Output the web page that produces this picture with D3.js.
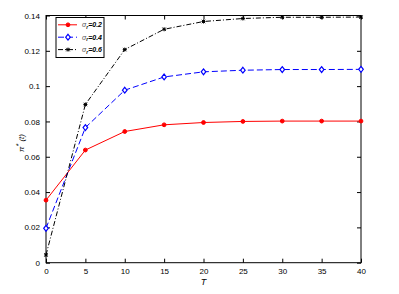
<!DOCTYPE html>
<html>
<head>
<meta charset="utf-8">
<script src="https://cdn.jsdelivr.net/npm/d3@7"></script>
<style>
  body { margin: 0; background: #fff; }
  svg { font-family: "Liberation Sans", Arial, sans-serif; }
</style>
</head>
<body>
<svg id="chart" width="399" height="294"></svg>
<script>
"use strict";

var T = [0, 5, 10, 15, 20, 25, 30, 35, 40];
var sigma02 = [0.0354, 0.0638, 0.0743, 0.0781, 0.0794, 0.08, 0.0802, 0.0802, 0.0802];
var sigma04 = [0.0195, 0.0765, 0.0977, 0.1052, 0.1081, 0.109, 0.1094, 0.1094, 0.1095];
var sigma06 = [0.0044, 0.0896, 0.1207, 0.1322, 0.1366, 0.1383, 0.139, 0.139, 0.1391];
var xTicks = [0, 5, 10, 15, 20, 25, 30, 35, 40];
var yTicks = [0, 0.02, 0.04, 0.06, 0.08, 0.1, 0.12, 0.14];
var seriesNames = ["0.2", "0.4", "0.6"];

var series = [
  { name: seriesNames[0], values: sigma02, color: "#ff0000", dash: null, marker: "dot" },
  { name: seriesNames[1], values: sigma04, color: "#0000ff", dash: "6,3", marker: "diamond" },
  { name: seriesNames[2], values: sigma06, color: "#000000", dash: "5,2,1,2", marker: "star" }
];

var svg = d3.select("#chart");
var x = d3.scaleLinear().domain([0, 40]).range([46, 361]);
var y = d3.scaleLinear().domain([0, 0.14]).range([262.7, 15.5]);

// frame
svg.append("rect")
  .attr("x", x(0)).attr("y", y(0.14))
  .attr("width", x(40) - x(0)).attr("height", y(0) - y(0.14))
  .attr("fill", "none").attr("stroke", "#000").attr("stroke-width", 1);

var fmtY = function (d) { return d === 0 ? "0" : d3.format("")(+d.toFixed(2)); };

var gx = svg.append("g").attr("transform", "translate(0," + y(0) + ")")
  .call(d3.axisBottom(x).tickValues(xTicks).tickSizeInner(-4).tickSizeOuter(0).tickPadding(6));
var gxt = svg.append("g").attr("transform", "translate(0," + y(0.14) + ")")
  .call(d3.axisTop(x).tickValues(xTicks).tickSizeInner(-4).tickSizeOuter(0).tickFormat(""));
var gy = svg.append("g").attr("transform", "translate(" + x(0) + ",0)")
  .call(d3.axisLeft(y).tickValues(yTicks).tickSizeInner(-4).tickSizeOuter(0).tickPadding(6).tickFormat(fmtY));
var gyr = svg.append("g").attr("transform", "translate(" + x(40) + ",0)")
  .call(d3.axisRight(y).tickValues(yTicks).tickSizeInner(-4).tickSizeOuter(0).tickFormat(""));

[gx, gxt, gy, gyr].forEach(function (g) {
  g.select(".domain").remove();
  g.selectAll("text").attr("font-size", 8).attr("fill", "#000").attr("font-family", "Liberation Sans, Arial, sans-serif");
});

// axis labels
svg.append("text")
  .attr("x", (x(0) + x(40)) / 2).attr("y", 285)
  .attr("text-anchor", "middle").attr("font-size", 9).attr("font-style", "italic")
  .text("T");

var ylab = svg.append("text")
  .attr("transform", "translate(24," + 143 + ") rotate(-90)")
  .attr("text-anchor", "middle").attr("font-size", 8).attr("font-style", "italic");
ylab.append("tspan").text("π");
ylab.append("tspan").attr("dy", -3).attr("font-size", 7).text("*");
ylab.append("tspan").attr("dy", 3).text(" (t)");

function drawMarker(g, type, color) {
  if (type === "dot") {
    g.append("circle").attr("r", 1.9).attr("fill", color).attr("stroke", color);
  } else if (type === "diamond") {
    g.append("path").attr("d", "M0,-2.9L2.3,0L0,2.9L-2.3,0Z")
      .attr("fill", "#fff").attr("stroke", color).attr("stroke-width", 1.2);
  } else {
    g.append("path").attr("d", "M-1.7,-1.7L1.7,1.7M-1.7,1.7L1.7,-1.7M0,-2L0,2M-2,0L2,0")
      .attr("stroke", color).attr("stroke-width", 1);
  }
}

var line = d3.line().x(function (d, i) { return x(T[i]); }).y(function (d) { return y(d); });

series.forEach(function (s) {
  svg.append("path")
    .attr("d", line(s.values))
    .attr("fill", "none").attr("stroke", s.color).attr("stroke-width", 1)
    .attr("stroke-dasharray", s.dash);
  s.values.forEach(function (v, i) {
    var g = svg.append("g").attr("transform", "translate(" + x(T[i]) + "," + y(v) + ")");
    drawMarker(g, s.marker, s.color);
  });
});

// legend
var lg = svg.append("g");
lg.append("rect").attr("x", 56).attr("y", 17.5).attr("width", 48).attr("height", 40)
  .attr("fill", "#fff").attr("stroke", "#000").attr("stroke-width", 1);
series.forEach(function (s, i) {
  var ly = 24.8 + i * 12.4;
  lg.append("line").attr("x1", 58).attr("x2", 77).attr("y1", ly).attr("y2", ly)
    .attr("stroke", s.color).attr("stroke-width", 1).attr("stroke-dasharray", s.dash);
  drawMarker(lg.append("g").attr("transform", "translate(68," + ly + ")"), s.marker, s.color);
  var t = lg.append("text").attr("x", 82).attr("y", ly + 2.5).attr("font-size", 7)
    .attr("font-style", "italic");
  t.append("tspan").attr("fill", "#555").text("σ");
  t.append("tspan").attr("dy", 1.5).attr("font-size", 5).attr("font-weight", "bold").text("r");
  t.append("tspan").attr("dy", -1.5).attr("font-weight", "bold").text("=" + s.name);
});
</script>
</body>
</html>
